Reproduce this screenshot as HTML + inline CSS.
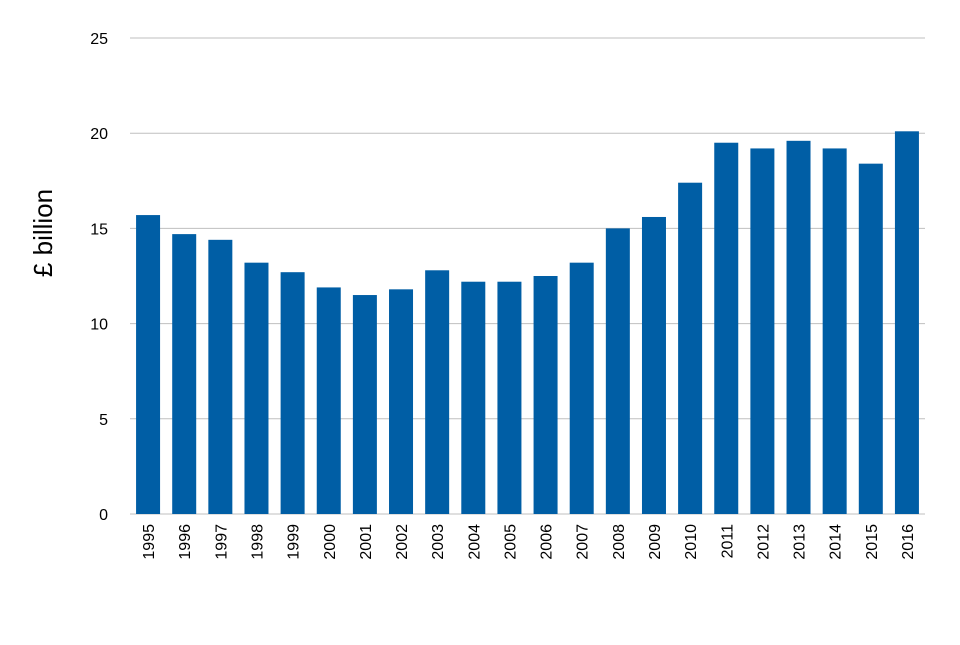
<!DOCTYPE html>
<html><head><meta charset="utf-8"><style>
body{margin:0;background:#fff;}
svg text{font-family:"Liberation Sans",sans-serif;fill:#000;}
</style></head><body>
<svg id="chart" width="960" height="640">
<g id="grid"></g>
<g id="bars"></g>
<g id="yt"></g>
<g id="xt"></g>
<text transform="translate(52,233) rotate(-90)" text-anchor="middle" font-size="26">£ billion</text>
</svg>
<script>
const categories=["1995","1996","1997","1998","1999","2000","2001","2002","2003","2004","2005","2006","2007","2008","2009","2010","2011","2012","2013","2014","2015","2016"];
const values=[15.7,14.7,14.4,13.2,12.7,11.9,11.5,11.8,12.8,12.2,12.2,12.5,13.2,15.0,15.6,17.4,19.5,19.2,19.6,19.2,18.4,20.1];
const yTicks=[0,5,10,15,20,25];
const L=130,R=925,T=38,B=514,ymax=25;
const y=v=>B-(B-T)*v/ymax;
const band=(R-L)/categories.length;
const x=i=>L+band*i+band/2;
const ns="http://www.w3.org/2000/svg";
function mk(t,a,p){const e=document.createElementNS(ns,t);for(const k in a)e.setAttribute(k,a[k]);p.appendChild(e);return e;}
const g=document.getElementById('grid'),bg=document.getElementById('bars'),yt=document.getElementById('yt'),xt=document.getElementById('xt');
yTicks.forEach(v=>{
 const l=mk('line',{x1:L,x2:R,y1:y(v),y2:y(v),stroke:'#bfbfbf','stroke-width':1},g);
 
 
 const t=mk('text',{x:108,y:y(v)+6,'text-anchor':'end','font-size':16},yt);
 t.textContent=v;
 
 
});
const bw=24;
values.forEach((v,i)=>{
 const r=mk('rect',{x:x(i)-bw/2,y:y(v),width:bw,height:B-y(v),fill:'#005EA5'},bg);
 
 
 const t=mk('text',{transform:`translate(${x(i)+6},524) rotate(-90)`,'text-anchor':'end','font-size':16},xt);
 t.textContent=categories[i];
 
 
});
</script>
</body></html>
